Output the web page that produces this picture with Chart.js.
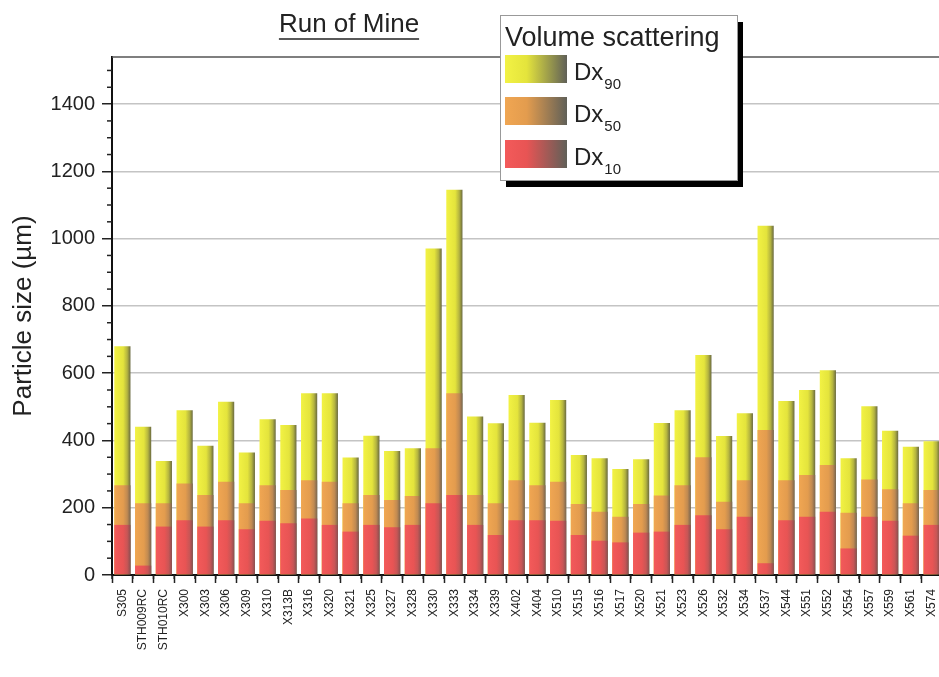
<!DOCTYPE html>
<html><head><meta charset="utf-8">
<script src="https://cdn.jsdelivr.net/npm/chart.js@4.4.1/dist/chart.umd.min.js"></script>
<style>html,body{margin:0;padding:0;background:#fff;overflow:hidden;} #wrap{width:945px;height:677px;}</style>
</head><body><div id="wrap"><canvas id="c" width="945" height="677" style="width:945px;height:677px"></canvas></div>
<script>
const categories = ["S305","STH009RC","STH010RC","X300","X303","X306","X309","X310","X313B","X316","X320","X321","X325","X327","X328","X330","X333","X334","X339","X402","X404","X510","X515","X516","X517","X520","X521","X523","X526","X532","X534","X537","X544","X551","X552","X554","X557","X559","X561","X574"];
const dx90 = [680,441,339,490,384,515,364,463,446,540,540,349,414,369,377,971,1145,471,451,535,453,520,357,347,315,344,452,490,654,413,481,1038,517,550,609,347,502,429,381,398];
const dx50 = [267,213,213,272,238,277,213,267,253,282,277,213,238,223,235,377,540,238,213,282,267,277,211,188,173,211,236,267,350,218,282,431,282,297,327,185,284,255,213,253];
const dx10 = [149,28,144,163,144,163,136,161,154,168,149,129,149,142,149,213,238,149,119,163,163,161,119,102,97,126,129,149,178,136,173,35,163,173,188,79,173,161,117,149];
const seriesSubscripts = ["90","50","10"];
const chartTitle = "Run of Mine";
const legendTitle = "Volume scattering";
const yTitle = "Particle size (\u00b5m)";
const yMax = 1540;
const yMajorStep = 200;
const yMinorStep = 50;

const FONT = "'Liberation Sans', Arial, sans-serif";
const BAR_FRAC = 0.78;
const palettes = {
  y: [[0,'#f2f244'],[0.55,'#e4e43c'],[0.8,'#b4b440'],[1,'#6a6a40']],
  o: [[0,'#f0a652'],[0.55,'#e39c4e'],[0.8,'#c08a52'],[1,'#7a6650']],
  r: [[0,'#f35a5a'],[0.55,'#e85454'],[0.8,'#c85656'],[1,'#8a5050']]
};
function grad(stops){
  return (c)=>{
    const ch=c.chart, xs=ch.scales && ch.scales.x;
    if(!ch.chartArea||!xs||c.dataIndex===undefined) return stops[0][1];
    const cx=xs.getPixelForValue(c.dataIndex);
    const w=(ch.chartArea.width/categories.length)*BAR_FRAC;
    const g=ch.ctx.createLinearGradient(cx-w/2,0,cx+w/2,0);
    stops.forEach(s=>g.addColorStop(s[0],s[1]));
    return g;
  };
}
function legendGrad(ctx,x,w,stops){
  const g=ctx.createLinearGradient(x,0,x+w,0);
  g.addColorStop(0,stops[0][1]); g.addColorStop(0.35,stops[1][1]); g.addColorStop(1,'#606058');
  return g;
}

const decor = {
  id:'decor',
  afterDraw(chart){
    const {ctx, chartArea:ca, scales} = chart;
    const ys=scales.y, xs=scales.x;
    ctx.save();
    // top/right frame
    ctx.strokeStyle='#555'; ctx.lineWidth=1.5;
    ctx.beginPath(); ctx.moveTo(ca.left, ca.top); ctx.lineTo(ca.right, ca.top); ctx.lineTo(ca.right, ca.bottom); ctx.stroke();
    // minor y ticks
    ctx.strokeStyle='#222'; ctx.lineWidth=1.5;
    for(let v=yMinorStep; v<=yMax; v+=yMinorStep){
      if(v%yMajorStep===0) continue;
      const p=ys.getPixelForValue(v);
      ctx.beginPath(); ctx.moveTo(ca.left-5,p); ctx.lineTo(ca.left,p); ctx.stroke();
    }
    // minor x ticks between categories
    for(let i=0;i<=categories.length;i++){
      const p=xs.getPixelForValue(i-0.5);
      ctx.beginPath(); ctx.moveTo(p,ca.bottom); ctx.lineTo(p,ca.bottom+4); ctx.stroke();
    }
    // title
    ctx.fillStyle='#222'; ctx.font='26px '+FONT; ctx.textAlign='center'; ctx.textBaseline='alphabetic';
    const tx=ca.left+237, ty=32;
    ctx.fillText(chartTitle, tx, ty);
    const tw=ctx.measureText(chartTitle).width;
    ctx.lineWidth=1.5; ctx.beginPath(); ctx.moveTo(tx-tw/2, ty+7); ctx.lineTo(tx+tw/2, ty+7); ctx.stroke();
    // legend
    const L={x:ca.left+388, y:15, w:237, h:165};
    ctx.fillStyle='#000'; ctx.fillRect(L.x+6, L.y+7, L.w, L.h);
    ctx.fillStyle='#fff'; ctx.fillRect(L.x, L.y, L.w, L.h);
    ctx.strokeStyle='#999'; ctx.lineWidth=1; ctx.strokeRect(L.x+0.5, L.y+0.5, L.w, L.h);
    ctx.fillStyle='#222'; ctx.textAlign='left'; ctx.font='27px '+FONT;
    ctx.fillText(legendTitle, L.x+5, L.y+31);
    const pals=[palettes.y, palettes.o, palettes.r];
    const rowsY=[40,82,125];
    for(let i=0;i<3;i++){
      const sx=L.x+5, sy=L.y+rowsY[i], sw=62, sh=28;
      ctx.fillStyle=legendGrad(ctx,sx,sw,pals[i]);
      ctx.fillRect(sx,sy,sw,sh);
      ctx.fillStyle='#222'; ctx.font='24px '+FONT;
      ctx.fillText('Dx', L.x+74, sy+25);
      const dw=ctx.measureText('Dx').width;
      ctx.font='15px '+FONT;
      ctx.fillText(seriesSubscripts[i], L.x+75+dw, sy+34);
    }
    ctx.restore();
  }
};

new Chart(document.getElementById('c'), {
  type:'bar',
  data:{
    labels: categories,
    datasets:[
      {label:'Dx10', data:dx10, backgroundColor:grad(palettes.r), borderWidth:0},
      {label:'Dx50', data:dx50, backgroundColor:grad(palettes.o), borderWidth:0},
      {label:'Dx90', data:dx90, backgroundColor:grad(palettes.y), borderWidth:0}
    ]
  },
  options:{
    responsive:false, animation:false, devicePixelRatio:1,
    layout:{padding:{top:57,right:3,left:0,bottom:0}},
    datasets:{bar:{categoryPercentage:1, barPercentage:BAR_FRAC}},
    plugins:{legend:{display:false}, tooltip:{enabled:false}, title:{display:false}},
    scales:{
      x:{
        stacked:true,
        afterFit(s){ s.height=102; s.paddingLeft=0; s.paddingRight=0; },
        ticks:{autoSkip:false, minRotation:90, maxRotation:90, padding:6, color:'#222', font:{family:FONT, size:12}},
        grid:{drawOnChartArea:false, tickLength:8, tickColor:'#222', tickWidth:1.5},
        border:{color:'#111', width:2}
      },
      y:{
        stacked:false, min:0, max:yMax,
        afterFit(s){ s.width=112; },
        ticks:{stepSize:yMajorStep, includeBounds:false, padding:7, color:'#222', font:{family:FONT, size:20}, callback:(v)=>String(v)},
        grid:{color:(c)=> (c.tick && c.tick.value>0) ? '#c4c4c4' : 'rgba(0,0,0,0)', lineWidth:1.5, tickLength:10, tickColor:'#222', tickWidth:1.5},
        border:{color:'#111', width:2},
        title:{display:true, text:yTitle, color:'#222', font:{family:FONT, size:26}, padding:{top:8,bottom:0}}
      }
    }
  },
  plugins:[decor]
});
</script></body></html>
